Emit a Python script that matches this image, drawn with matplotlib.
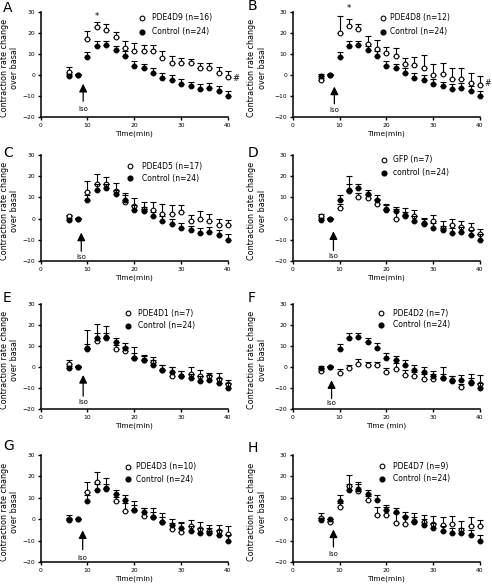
import numpy as np
import matplotlib
matplotlib.use("Agg")
import matplotlib.pyplot as plt

plt.rcParams['font.family'] = ['DejaVu Sans']

# sampling times (min)
times = [6, 8, 10, 12, 14, 16, 18, 20, 22, 24, 26, 28, 30, 32, 34, 36, 38, 40]

# control group, shared by every panel
control_mean = [-0.5, 0, 8.7, 13.7, 14.2, 11.8, 9.0, 4.2, 3.5, 1.0, -1.2, -2.6, -4.2, -5.4, -6.6, -6.3, -7.6, -10.0]
control_err = [1.0, 0.3, 2.4, 2.6, 2.2, 1.9, 2.3, 2.4, 1.9, 2.2, 2.3, 2.6, 2.2, 2.1, 2.4, 2.4, 2.4, 2.6]

panel_letters = ["A", "B", "C", "D", "E", "F", "G", "H"]
group_names = ["PDE4D9 (n=16)", "PDE4D8 (n=12)", "PDE4D5 (n=17)", "GFP (n=7)",
               "PDE4D1 (n=7)", "PDE4D2 (n=7)", "PDE4D3 (n=10)", "PDE4D7 (n=9)"]
control_names = ["Control (n=24)", "Control (n=24)", "Control (n=24)", "control (n=24)",
                 "Control (n=24)", "Control (n=24)", "Control (n=24)", "Control (n=24)"]
xlabels = ["Time(min)", "Time(min)", "Time(min)", "Time(min)",
           "Time(min)", "Time (min)", "Time(min)", "Time(min)"]

d9_mean = [1.5, 0, 17.2, 22.7, 21.4, 18.3, 12.8, 11.4, 11.4, 11.4, 8.3, 5.9, 5.9, 5.5, 3.1, 3.1, 1.1, -0.8]
d9_err = [2.4, 0.3, 3.9, 2.6, 2.8, 2.3, 3.3, 3.8, 3.0, 3.0, 3.0, 3.1, 2.4, 2.3, 2.7, 2.7, 2.8, 2.7]

d8_mean = [-2.2, 0, 19.8, 23.5, 21.7, 14.6, 12.6, 10.4, 9.1, 5.2, 4.9, 3.3, 0.2, 0.5, -2.0, -2.0, -3.6, -4.6]
d8_err = [1.0, 0.3, 8.3, 3.2, 2.6, 4.2, 4.2, 3.1, 3.8, 2.8, 3.7, 6.1, 5.0, 5.2, 5.3, 5.3, 4.4, 4.3]

d5_mean = [1.1, 0, 12.6, 16.5, 16.5, 13.0, 7.8, 5.8, 4.7, 3.9, 2.4, 2.0, 3.1, -1.1, 0.0, -0.9, -3.1, -3.1]
d5_err = [0.8, 0.3, 5.1, 4.7, 3.1, 3.8, 4.3, 3.9, 3.1, 3.9, 4.5, 4.6, 3.5, 2.7, 3.6, 3.3, 2.8, 2.3]

gfp_mean = [1.3, 0, 5.0, 12.9, 10.2, 9.8, 7.1, 4.5, -0.3, 1.6, 1.3, -2.0, -1.3, -4.4, -3.1, -3.9, -5.0, -7.1]
gfp_err = [1.1, 0.3, 2.0, 7.1, 2.0, 1.5, 2.0, 2.5, 5.0, 3.6, 2.7, 2.5, 3.2, 3.1, 2.8, 2.6, 3.1, 2.4]

d1_mean = [1.6, 0, 9.0, 12.6, 13.7, 8.5, 7.4, 4.3, 3.1, 2.2, -1.3, -4.1, -4.1, -3.1, -4.1, -4.4, -5.7, -7.9]
d1_err = [1.9, 0.3, 8.6, 7.7, 5.8, 2.0, 2.0, 5.1, 2.4, 2.8, 2.4, 3.9, 2.0, 3.1, 2.8, 1.6, 2.9, 1.9]

d2_mean = [-2.1, 0, -2.9, -0.5, 1.6, 0.8, 0.8, -2.4, -0.8, -4.0, -4.4, -5.6, -5.6, -5.1, -6.3, -9.5, -7.1, -7.9]
d2_err = [1.0, 0.3, 2.1, 1.5, 2.4, 1.6, 1.6, 2.0, 2.7, 2.4, 2.0, 2.4, 2.4, 5.1, 2.0, 1.5, 3.9, 3.9]

d3_mean = [0, 0, 12.8, 17.3, 14.4, 8.4, 3.8, 4.5, 1.4, 1.1, -1.3, -4.8, -5.9, -3.3, -4.8, -5.3, -5.6, -6.7]
d3_err = [1.9, 0.3, 4.7, 4.9, 5.0, 2.0, 3.6, 4.2, 3.9, 4.2, 4.2, 2.8, 4.5, 3.1, 3.4, 2.8, 3.1, 3.4]

d7_mean = [0.5, -1.4, 5.6, 15.3, 13.2, 8.8, 1.8, 1.8, -1.6, -2.2, -1.0, -1.1, -2.2, -2.7, -2.4, -5.1, -3.2, -3.2]
d7_err = [2.4, 0.5, 2.0, 5.4, 4.0, 2.0, 3.8, 3.8, 4.5, 3.5, 3.9, 3.2, 3.8, 3.7, 4.0, 4.3, 4.0, 2.6]

group_means = [d9_mean, d8_mean, d5_mean, gfp_mean, d1_mean, d2_mean, d3_mean, d7_mean]
group_errs = [d9_err, d8_err, d5_err, gfp_err, d1_err, d2_err, d3_err, d7_err]

# layout (pixels of a 492x586 canvas)
W, H = 492, 586
col_left = [40.5, 292.7]
col_width = [187.5, 187.3]
row_span = [(12, 117), (155, 261), (304, 409), (455, 562)]

# legend anchor (axes fraction): marker x, text x, row1 y, row2 y
legend_pos = [(0.54, 0.594, 0.943, 0.81), (0.483, 0.517, 0.944, 0.81),
              (0.477, 0.54, 0.896, 0.78), (0.488, 0.537, 0.953, 0.833),
              (0.468, 0.521, 0.912, 0.795), (0.474, 0.537, 0.91, 0.80),
              (0.468, 0.512, 0.889, 0.775), (0.479, 0.537, 0.894, 0.78)]
# Iso arrow: x, arrow tip, arrow tail, text y
iso_pos = [(9.1, -4.2, -12.5, -16.1), (8.9, -5.5, -13.7, -16.8),
           (8.7, -6.6, -15.4, -18.0), (8.7, -6.0, -15.0, -17.8),
           (9.1, -3.8, -13.9, -16.7), (8.3, -6.3, -15.0, -17.0),
           (9.0, -5.2, -14.2, -18.3), (8.7, -4.8, -13.0, -16.3)]
letter_pos = [(3, 8), (248, 6), (3, 153), (248, 153), (3, 298), (248, 298), (3, 446), (248, 448)]

fig = plt.figure(figsize=(W / 100, H / 100), dpi=100)

for i in range(8):
    r, c = i // 2, i % 2
    top, bot = row_span[r]
    ax = fig.add_axes([col_left[c] / W, (H - bot) / H, col_width[c] / W, (bot - top) / H])

    m = group_means[i]
    e = group_errs[i]
    ax.errorbar(times, m, yerr=[np.zeros(len(e)), e], fmt='o', color='black',
                mfc='white', mec='black', ms=3.4, mew=0.8, elinewidth=0.8,
                capsize=2.2, capthick=0.8, clip_on=False, zorder=3)
    ax.errorbar(times, control_mean, yerr=[np.zeros(len(control_err)), control_err],
                fmt='o', color='black', ms=3.4, mew=0.8, elinewidth=0.8,
                capsize=2.2, capthick=0.8, clip_on=False, zorder=4)

    ax.set_xlim(0, 40)
    ax.set_ylim(-20, 30)
    ax.set_xticks([0, 10, 20, 30, 40])
    ax.set_yticks([-20, -10, 0, 10, 20, 30])
    for s in ['top', 'right']:
        ax.spines[s].set_visible(False)
    for s in ['left', 'bottom']:
        ax.spines[s].set_linewidth(1.1)
    ax.tick_params(direction='out', length=2.5, width=1.0, labelsize=4.3, pad=1.5)

    ax.set_xlabel(xlabels[i], fontsize=5.3, labelpad=2)
    ylx = -0.165 if c == 0 else -0.19
    ax.text(ylx, 0.47, "Contraction rate change\nover basal", transform=ax.transAxes,
            rotation=90, ha='center', va='center', fontsize=5.8, linespacing=1.25)

    mx, tx, y1, y2 = legend_pos[i]
    ax.plot([mx], [y1], 'o', mfc='white', mec='black', ms=3.4, mew=0.8,
            transform=ax.transAxes, clip_on=False)
    ax.plot([mx], [y2], 'o', color='black', ms=3.4, transform=ax.transAxes, clip_on=False)
    ax.text(tx, y1, group_names[i], transform=ax.transAxes, fontsize=5.5, va='center')
    ax.text(tx, y2, control_names[i], transform=ax.transAxes, fontsize=5.5, va='center')

    ix, itip, itail, ity = iso_pos[i]
    ax.annotate("", xy=(ix, itip), xytext=(ix, itail),
                arrowprops=dict(arrowstyle='-|>,head_length=0.6,head_width=0.3',
                                color='black', lw=0.9, mutation_scale=8,
                                shrinkA=0, shrinkB=0))
    ax.text(ix, ity, "Iso", ha='center', va='center', fontsize=5)

    lx, ly = letter_pos[i]
    fig.text(lx / W, 1 - ly / H, panel_letters[i], fontsize=10, va='center', ha='left')

# significance marks
axes = fig.axes
axes[0].text(12, 28, "*", ha='center', va='center', fontsize=6)
axes[0].text(41.7, -1.8, "#", ha='center', va='center', fontsize=6, clip_on=False)
axes[1].text(12, 31.5, "*", ha='center', va='center', fontsize=6, clip_on=False)
axes[1].text(41.7, -3.9, "#", ha='center', va='center', fontsize=5.5, clip_on=False)

fig.savefig("out.png", dpi=100)
